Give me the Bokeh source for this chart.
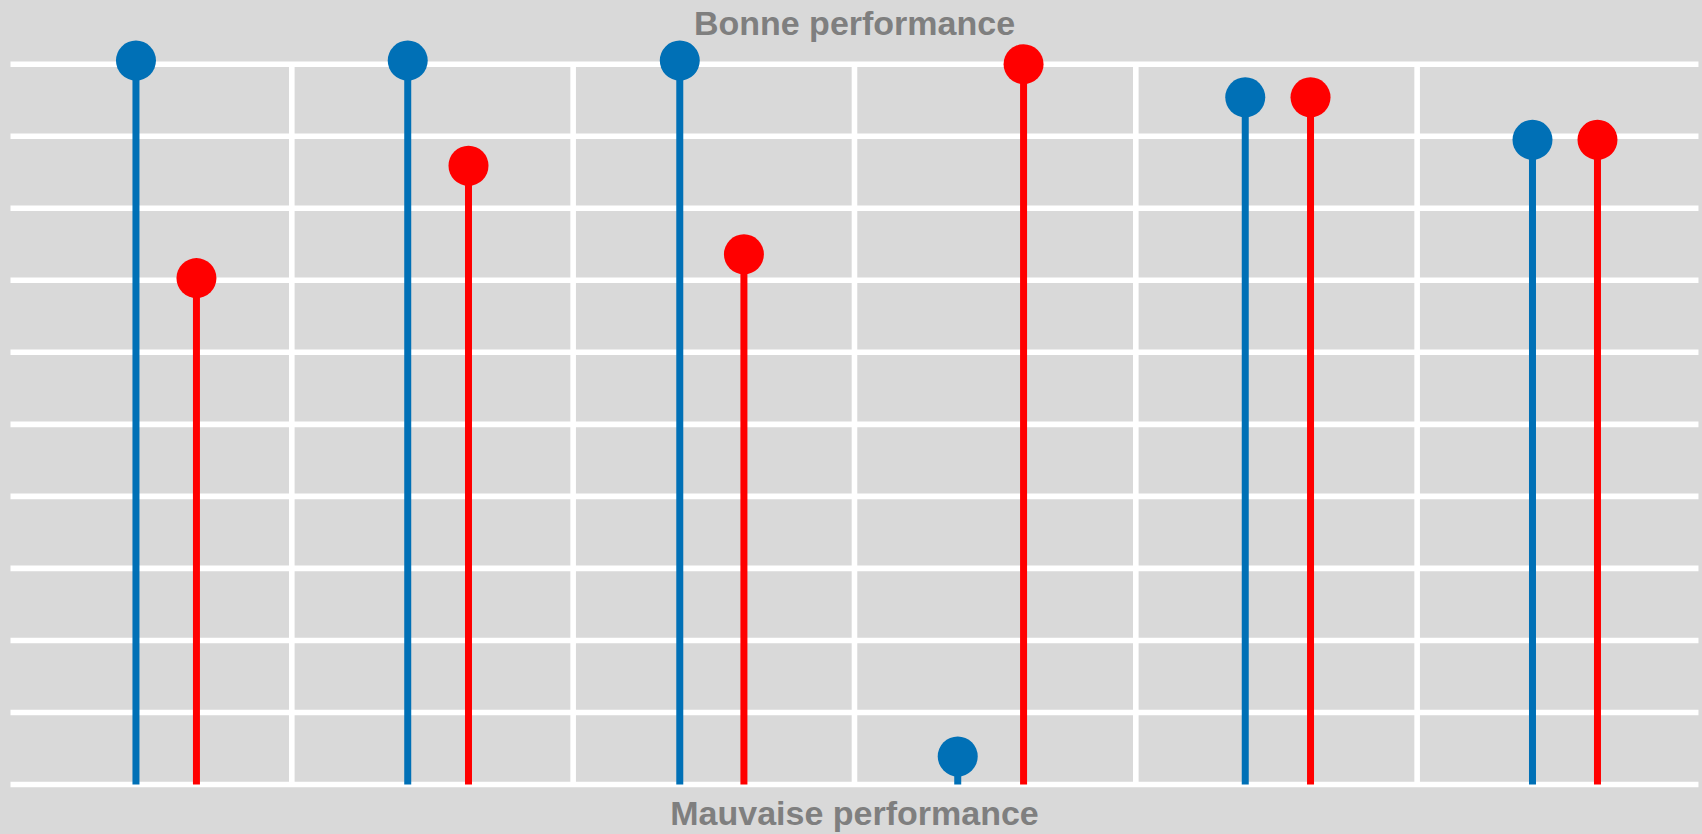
from bokeh.plotting import figure
from bokeh.models import Range1d, Label, ColumnDataSource
from bokeh.embed import file_html
from bokeh.resources import INLINE

# ---- data ----
groups = ["1", "2", "3", "4", "5", "6"]
x_blue = [0.446, 1.412, 2.379, 3.367, 4.389, 5.410]
x_red = [0.661, 1.628, 2.607, 3.601, 4.621, 5.641]
val_blue = [10.05, 10.05, 10.05, 0.39, 9.54, 8.95]
val_red = [7.03, 8.59, 7.36, 10.0, 9.54, 8.95]
grid_levels = [0, 1, 2, 3, 4, 5, 6, 7, 8, 9, 10]
group_bounds = [1, 2, 3, 4, 5]
top_text = "Bonne performance"
bottom_text = "Mauvaise performance"

BG = "#d9d9d9"
BLUE = "#0070B6"
RED = "#FF0000"
GRAY = "#7f7f7f"

W, H = 1702, 834
p = figure(width=W, height=H, output_backend="svg", toolbar_location=None,
           x_range=Range1d(-0.0355, 6.0143), y_range=Range1d(-0.694, 10.884),
           min_border=0, min_border_left=0, min_border_right=0,
           min_border_top=0, min_border_bottom=0)
p.axis.visible = False
p.grid.visible = False
p.outline_line_color = None
p.background_fill_color = BG
p.border_fill_color = BG

# horizontal white lines
p.segment(x0=[0] * len(grid_levels), x1=[6] * len(grid_levels),
          y0=grid_levels, y1=grid_levels, line_color="white",
          line_width=5.6, line_cap="butt")
# vertical separators
p.segment(x0=group_bounds, x1=group_bounds,
          y0=[0] * len(group_bounds), y1=[10] * len(group_bounds),
          line_color="white", line_width=5.6, line_cap="butt")

src_b = ColumnDataSource(dict(x=x_blue, y=val_blue, y0=[0] * len(x_blue)))
src_r = ColumnDataSource(dict(x=x_red, y=val_red, y0=[0] * len(x_red)))

p.segment(x0="x", x1="x", y0="y0", y1="y", source=src_b,
          line_color=BLUE, line_width=7, line_cap="butt")
p.segment(x0="x", x1="x", y0="y0", y1="y", source=src_r,
          line_color=RED, line_width=7, line_cap="butt")
p.scatter(x="x", y="y", source=src_b, size=40, fill_color=BLUE, line_color=None)
p.scatter(x="x", y="y", source=src_r, size=40, fill_color=RED, line_color=None)

p.add_layout(Label(x=3, y=10.575, text=top_text, text_align="center",
                   text_baseline="alphabetic", text_font="Liberation Sans",
                   text_font_style="bold", text_font_size="34px",
                   text_color=GRAY))
p.add_layout(Label(x=3, y=-0.40, text=bottom_text, text_align="center",
                   text_baseline="alphabetic", text_font="Liberation Sans",
                   text_font_style="bold", text_font_size="34px",
                   text_color=GRAY))

html = file_html(p, INLINE)
html = html.replace("</head>",
                    "<style>html,body{margin:0;padding:0;background:#d9d9d9;overflow:hidden}</style></head>", 1)
open("out.html", "w").write(html)
